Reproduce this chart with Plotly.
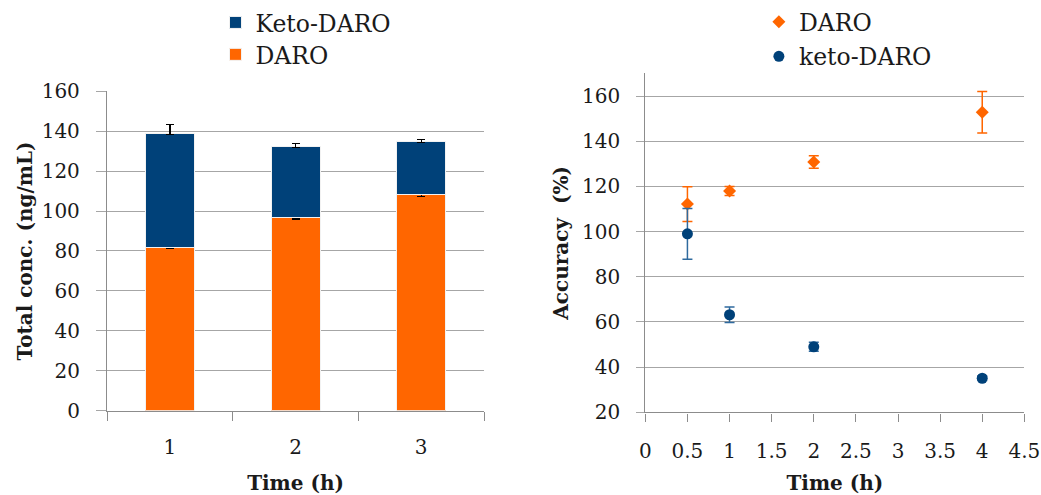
import plotly.graph_objects as go

# ---- Left chart data (stacked bars) ----
bar_categories = ["1", "2", "3"]
daro_conc = [82.0, 97.0, 108.2]
keto_conc = [57.0, 35.3, 26.5]
daro_err_plus = [2.5, 2.4, 3.1]
daro_err_minus = [0.8, 0.9, 1.0]
keto_err_plus = [4.5, 1.7, 1.1]
keto_err_minus = [0.5, 0.6, 0.5]
bar_yticks = [0, 20, 40, 60, 80, 100, 120, 140, 160]

# ---- Right chart data (accuracy scatter) ----
time_h = [0.5, 1, 2, 4]
daro_acc = [112.2, 118.0, 130.8, 152.8]
daro_acc_err = [7.7, 2.0, 2.8, 9.2]
keto_acc = [99.0, 63.2, 49.0, 35.1]
keto_acc_err = [11.2, 3.4, 2.0, 1.0]
acc_xticks = [0, 0.5, 1, 1.5, 2, 2.5, 3, 3.5, 4, 4.5]
acc_yticks = [20, 40, 60, 80, 100, 120, 140, 160]

ORANGE = "#FF6600"
BLUE = "#004179"
GRID = "#A6A6A6"
AXIS = "#8C8C8C"
FONT = "DejaVu Serif"
TXT = "#1a1a1a"

fig = go.Figure()

fig.add_trace(go.Bar(
    x=bar_categories, y=daro_conc, name="DARO",
    marker=dict(color=ORANGE, line=dict(color="#F2F2F2", width=1)),
    error_y=dict(type="data", array=daro_err_plus, arrayminus=daro_err_minus,
                 color="#000000", thickness=1.3, width=4),
    xaxis="x", yaxis="y", legend="legend2", showlegend=True,
))
fig.add_trace(go.Bar(
    x=bar_categories, y=keto_conc, name="Keto-DARO",
    marker=dict(color=BLUE, line=dict(color="#F2F2F2", width=1)),
    error_y=dict(type="data", array=keto_err_plus, arrayminus=keto_err_minus,
                 color="#000000", thickness=1.3, width=4),
    xaxis="x", yaxis="y", legend="legend", showlegend=True,
))

fig.add_trace(go.Scatter(
    x=time_h, y=daro_acc, name="DARO", mode="markers",
    marker=dict(symbol="diamond", color=ORANGE, size=10),
    error_y=dict(type="data", array=daro_acc_err, color=ORANGE, thickness=1.5, width=5),
    xaxis="x2", yaxis="y2", legend="legend3", showlegend=True,
))
fig.add_trace(go.Scatter(
    x=time_h, y=keto_acc, name="keto-DARO", mode="markers",
    marker=dict(symbol="circle", color=BLUE, size=11),
    error_y=dict(type="data", array=keto_acc_err, color="#2F6A9E", thickness=1.5, width=5),
    xaxis="x2", yaxis="y2", legend="legend4", showlegend=True,
))

tick_font = dict(family=FONT, size=20, color=TXT)
title_font = dict(family=FONT, size=20, color=TXT, weight="bold")
leg_font = dict(family=FONT, size=23.5, color=TXT)

fig.update_layout(
    width=1041, height=495,
    margin=dict(l=0, r=0, t=0, b=0),
    paper_bgcolor="white", plot_bgcolor="white",
    barmode="stack", bargap=0.61,
    showlegend=True,
    font=dict(family=FONT, color=TXT),
    xaxis=dict(domain=[0.1028, 0.465], anchor="y", type="category", automargin=False,
               tickson="boundaries", ticks="outside", ticklen=9, tickcolor=AXIS,
               showline=True, linecolor=AXIS, linewidth=1.3, showgrid=False,
               tickfont=tick_font, ticklabelstandoff=18,
               title=dict(text="Time (h)", font=title_font, standoff=26)),
    yaxis=dict(domain=[0.1717, 0.8222], anchor="x", range=[0, 160], automargin=False,
               tickvals=bar_yticks, ticks="outside", ticklen=10, tickcolor=GRID,
               showline=True, linecolor=AXIS, linewidth=1.3,
               showgrid=True, gridcolor=GRID, gridwidth=1.3, zeroline=False,
               tickfont=tick_font, ticklabelstandoff=12,
               title=dict(text="Total conc. (ng/mL)", font=title_font, standoff=3)),
    xaxis2=dict(domain=[0.6199, 0.984], anchor="y2", range=[0, 4.5], automargin=False,
                tickvals=acc_xticks, ticktext=[str(v) for v in acc_xticks],
                ticks="outside", ticklen=8, tickcolor=AXIS,
                showline=True, linecolor=AXIS, linewidth=1.3, showgrid=False, zeroline=False,
                tickfont=tick_font, ticklabelstandoff=12,
                title=dict(text="Time (h)", font=title_font, standoff=22)),
    yaxis2=dict(domain=[0.1683, 0.8586], anchor="x2", range=[20, 170], automargin=False,
                tickvals=acc_yticks, ticks="outside", ticklen=8, tickcolor=GRID,
                showline=True, linecolor=AXIS, linewidth=1.3,
                showgrid=True, gridcolor=GRID, gridwidth=1.3, zeroline=False,
                tickfont=tick_font, ticklabelstandoff=12,
                title=dict(text="Accuracy  (%)", font=title_font, standoff=7)),
    legend=dict(x=0.207, y=0.962, xanchor="left", yanchor="middle",
                font=leg_font, bgcolor="rgba(0,0,0,0)"),
    legend2=dict(x=0.207, y=0.897, xanchor="left", yanchor="middle",
                 font=leg_font, bgcolor="rgba(0,0,0,0)"),
    legend3=dict(x=0.729, y=0.964, xanchor="left", yanchor="middle",
                 font=leg_font, bgcolor="rgba(0,0,0,0)"),
    legend4=dict(x=0.729, y=0.893, xanchor="left", yanchor="middle",
                 font=leg_font, bgcolor="rgba(0,0,0,0)"),
)

fig.write_html("out.html")
